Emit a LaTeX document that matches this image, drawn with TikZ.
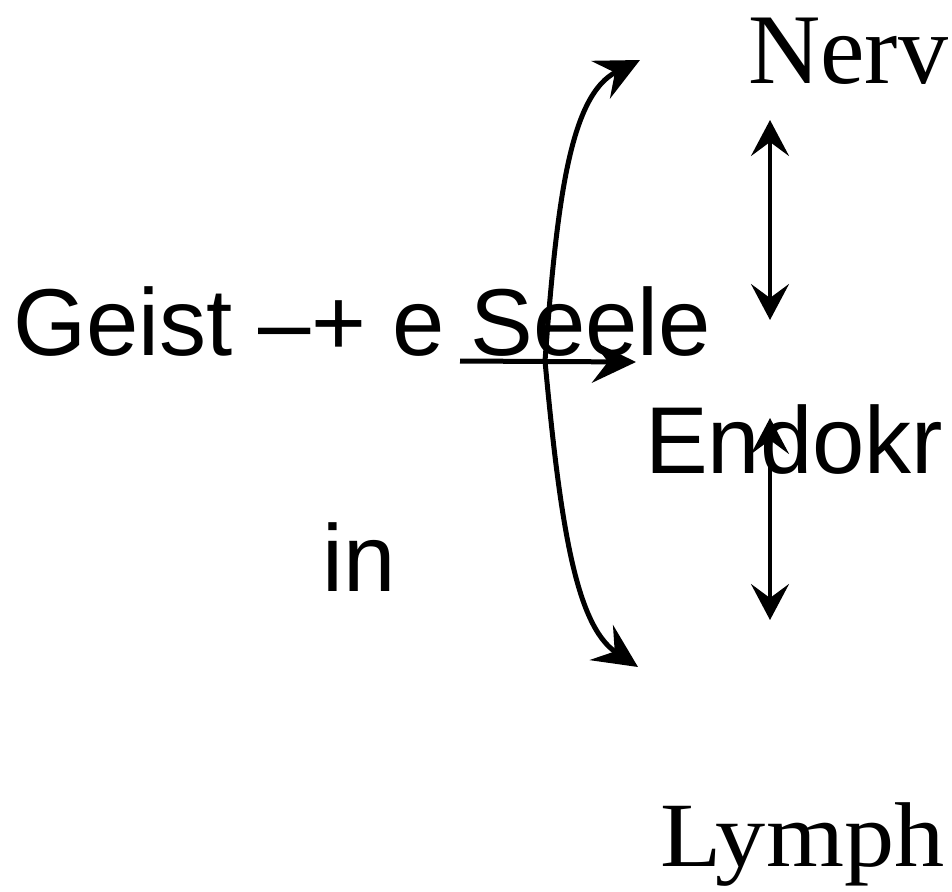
\documentclass[tikz,border=0pt]{standalone}
\usepackage{fontspec}
\setmainfont{Liberation Serif}
\newfontfamily\arialfont{Liberation Sans}
\usetikzlibrary{arrows.meta}
\tikzset{
  sanslabel/.style={inner sep=0pt, anchor=base west, font=\arialfont\fontsize{95}{95}\selectfont, xscale=0.99, transform shape},
  seriflabel/.style={inner sep=0pt, anchor=base west, font=\fontsize{100}{100}\selectfont},
  bigarrow/.style={line width=5pt, -{Stealth[length=44pt,width=42pt,inset=16pt]}},
  dblarrow/.style={line width=3.8pt, {Stealth[length=36pt,width=38pt,inset=14pt]}-{Stealth[length=36pt,width=38pt,inset=14pt]}}
}
\begin{document}
\begin{tikzpicture}[x=1pt,y=-1pt]
\useasboundingbox (0,0) rectangle (952,891);
\clip (0,0) rectangle (952,891);
% texts
\node[seriflabel] (nerv) at (748,83) {Nerv};
\node[sanslabel] (geist) at (13,355) {Geist –+ e Seele};
\node[sanslabel] (endo) at (645,473) {Endokr};
\node[sanslabel] (in) at (322,591) {in};
\node[seriflabel, font=\fontsize{92}{92}\selectfont, xscale=1.09, transform shape] (lymph) at (660,866) {Lymph};
% arrows
\coordinate (j) at (545,361);
\coordinate (hs) at (460,361);
\coordinate (top) at (640,60);
\coordinate (mid) at (636,362);
\coordinate (bot) at (638,667);
\coordinate (a1) at (770,120);
\coordinate (a2) at (770,320);
\coordinate (b1) at (770,418);
\coordinate (b2) at (770,620);
\draw[bigarrow] (hs) -- (mid);
\draw[bigarrow] (j) .. controls (557,200) and (570,95) .. (top);
\draw[bigarrow] (j) .. controls (560,520) and (575,625) .. (bot);
\draw[dblarrow] (a1) -- (a2);
\draw[dblarrow] (b1) -- (b2);
\end{tikzpicture}
\end{document}
